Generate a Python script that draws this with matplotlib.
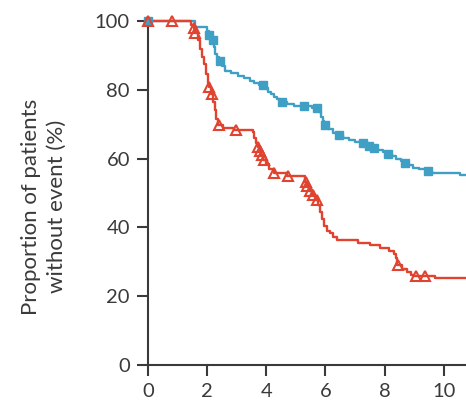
import numpy as np
import matplotlib
matplotlib.use("Agg")
import matplotlib.pyplot as plt

# ---- data ----
# Blue group: Kaplan-Meier step points (time, % without event)
blue_t = [0, 1.6, 2.0, 2.05, 2.15, 2.22, 2.28, 2.34, 2.4, 2.5, 2.6, 2.8, 3.05, 3.25, 3.45,
          3.6, 3.75, 3.95, 4.05, 4.15, 4.25, 4.35, 4.45, 4.7, 4.95, 5.55, 5.78, 5.85,
          5.9, 5.95, 6.1, 6.25, 6.4, 6.6, 6.8, 7.0, 7.25, 7.45, 7.6, 7.75, 7.95, 8.1,
          8.25, 8.4, 8.55, 8.65, 8.8, 8.95, 9.15, 9.4, 9.6, 10.55, 10.9]
blue_s = [100, 98.2, 97, 96, 94.5, 92.5, 90.5, 89.5, 88.5, 86.8, 85.5, 84.8, 84, 83.3, 82.5,
          82, 81.3, 80.5, 79.5, 78.8, 78, 77.2, 76.5, 75.9, 75.3, 74.6, 73.5, 72,
          71, 69.8, 68.5, 67.5, 66.8, 66, 65.4, 64.9, 64.5, 63.8, 63.2, 62.6, 62, 61.4,
          60.7, 60, 59.3, 58.6, 58, 57.4, 57, 56.4, 55.9, 55.2, 55.2]
blue_cens = [0, 2.07, 2.2, 2.42, 3.9, 4.52, 5.27, 5.72, 5.98, 6.46, 7.27, 7.48, 7.65,
             8.1, 8.68, 9.47]

# Red group
red_t = [0, 1.45, 1.55, 1.59, 1.68, 1.76, 1.83, 1.9, 1.97, 2.02, 2.07, 2.13, 2.2, 2.25,
         2.3, 2.38, 2.55, 2.9, 3.55, 3.6, 3.66, 3.72, 3.77, 3.83, 3.9, 4.0, 4.1, 4.25,
         4.7, 5.3, 5.37, 5.45, 5.55, 5.65, 5.75, 5.82, 5.88, 5.95, 6.05, 6.15, 6.25,
         6.4, 7.1, 7.5, 7.85, 8.15, 8.3, 8.38, 8.43, 8.6, 8.75, 8.9, 9.0, 9.7, 10.9]
red_s = [100, 98.8, 97.9, 96.4, 94.5, 92, 89.5, 87.5, 84.5, 82, 80.9, 78.8, 76.5, 74,
         71.5, 69.8, 68.8, 68.3, 67.8, 66, 64.5, 63.5, 62.3, 61, 59.6, 58.3, 57, 55.7,
         54.9, 53.3, 52, 50.7, 49.4, 48, 46.5, 44.5, 42.5, 40.5, 39, 38.3, 37.3,
         36.4, 35.6, 34.8, 34, 33, 32.2, 31, 29.1, 28, 27, 26.3, 25.9, 25.4, 25.4]
red_cens = [0, 0.8, 1.55, 1.59, 2.07, 2.15, 2.41, 2.97, 3.73, 3.78, 3.84, 3.92, 4.26,
            4.74, 5.33, 5.39, 5.47, 5.58, 5.7, 8.46, 9.05, 9.36]

x_ticks = [0, 2, 4, 6, 8, 10]
y_ticks = [0, 20, 40, 60, 80, 100]
y_label = "Proportion of patients\nwithout event (%)"

BLUE = "#3f9fc4"
RED = "#e0432f"
INK = "#3a3a3a"


def step_value(times, surv, t):
    i = np.searchsorted(np.asarray(times), t, side="right") - 1
    return np.asarray(surv)[max(i, 0)]


plt.rcParams["font.family"] = ["Lato", "DejaVu Sans"]

fig = plt.figure(figsize=(4.66, 4.08), dpi=100)
ax = fig.add_axes([148 / 466, 43 / 408, 318 / 466, 344 / 408])

ax.plot(blue_t, blue_s, drawstyle="steps-post", color=BLUE, lw=1.7, clip_on=False,
        zorder=3)
ax.plot(red_t, red_s, drawstyle="steps-post", color=RED, lw=1.7, clip_on=False,
        zorder=4)

bc_y = [step_value(blue_t, blue_s, t) for t in blue_cens]
rc_y = [step_value(red_t, red_s, t) for t in red_cens]
ax.plot(blue_cens, bc_y, ls="none", marker="s", ms=5.8, color=BLUE, mec=BLUE,
        clip_on=False, zorder=5)
ax.plot(red_cens, rc_y, ls="none", marker="^", ms=7, mfc="none", mec=RED, mew=1.5,
        clip_on=False, zorder=6)

ax.set_xlim(0, 10.75)
ax.set_ylim(0, 100)
ax.set_xticks(x_ticks)
ax.set_yticks(y_ticks)

for side in ("top", "right"):
    ax.spines[side].set_visible(False)
for side in ("left", "bottom"):
    ax.spines[side].set_color("#3a3a3a")
    ax.spines[side].set_linewidth(1.5)

ax.tick_params(axis="both", direction="out", length=8, width=1.5, color="#3a3a3a",
               labelsize=14.5, labelcolor=INK, pad=5)

ax.set_ylabel(y_label, fontsize=16, color=INK, linespacing=1.4)
ax.yaxis.set_label_coords(-0.255, 0.46)

fig.savefig("out.png", dpi=100)
